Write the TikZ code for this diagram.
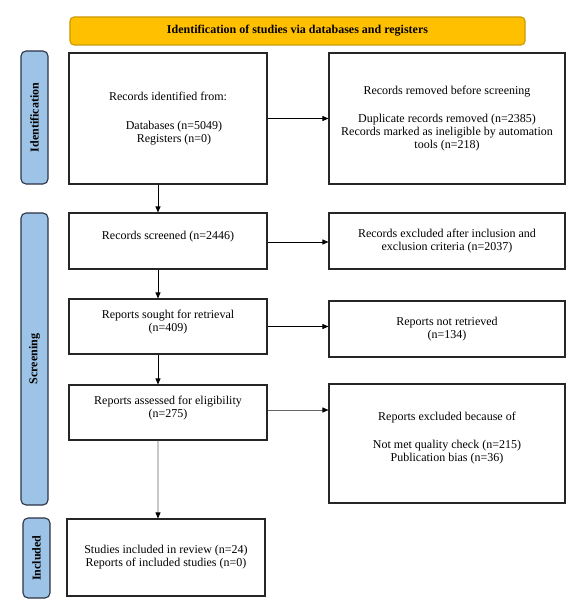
\documentclass[tikz,border=0pt]{standalone}
\usepackage{fontspec}
\setmainfont{Liberation Serif}
\usetikzlibrary{arrows.meta,positioning}
\definecolor{bannerfill}{HTML}{FFC000}
\definecolor{bannerdraw}{HTML}{C99A06}
\definecolor{sidefill}{HTML}{9DC3E6}
\definecolor{sidedraw}{HTML}{2B3445}
\tikzset{
  box/.style={draw=black!85, line width=1.1bp, fill=white, inner sep=0pt, align=center,
    font=\fontsize{12bp}{13bp}\selectfont},
  side/.style={draw=sidedraw, line width=1.1bp, fill=sidefill, rounded corners=5bp, inner sep=0pt},
  sidelabel/.style={rotate=90, font=\fontsize{12bp}{13bp}\selectfont\bfseries},
  conn/.style={line width=0.8bp, draw=black, -{Triangle[length=6bp,width=5bp,color=black]}},
  gconn/.style={conn, draw=black!60}
}
\begin{document}
\begin{tikzpicture}[x=1bp,y=-1bp]
\useasboundingbox (0,0) rectangle (586,613);
% banner
\node[draw=bannerdraw, line width=1.1bp, fill=bannerfill, rounded corners=4bp,
  minimum width=455bp, minimum height=28bp, inner sep=0pt,
  font=\fontsize{12bp}{13bp}\selectfont\bfseries] (banner) at (297.5,31) {Identification of studies via databases and registers};
% side bars
\node[side, minimum width=27bp, minimum height=133bp] (sid) at (34.5,117.5) {};
\node[sidelabel] at (sid.center) {Identification};
\node[side, minimum width=27bp, minimum height=292bp] (sscr) at (34.5,359) {};
\node[sidelabel] at (sscr.center) {Screening};
\node[side, minimum width=27bp, minimum height=80bp] (sinc) at (36.5,558) {};
\node[sidelabel] at (sinc.center) {Included};
% left boxes
\node[box, minimum width=198bp, minimum height=131bp] (b1) at (168,118.5)
  {Records identified from:\\[16bp]\hphantom{xx}Databases (n=5049)\\\hphantom{xx}Registers (n=0)};
\node[box, minimum width=198bp, minimum height=56bp] (b2) at (168,241)
  {Records screened (n=2446)\\[-1bp]\vphantom{X}};
\node[box, minimum width=198bp, minimum height=55bp] (b3) at (168,326.5)
  {Reports sought for retrieval\\(n=409)\\[-1bp]\vphantom{X}};
\node[box, minimum width=198bp, minimum height=55bp] (b4) at (168,412.5)
  {Reports assessed for eligibility\\(n=275)\\[-1bp]\vphantom{X}};
\node[box, minimum width=198bp, minimum height=77bp] (b5) at (166,557.5)
  {Studies included in review (n=24)\\Reports of included studies (n=0)};
% right boxes
\node[box, minimum width=236bp, minimum height=131bp] (r1) at (447,118.5)
  {Records removed before screening\\[15bp]Duplicate records removed (n=2385)\\Records marked as ineligible by automation\\tools (n=218)};
\node[box, minimum width=236bp, minimum height=56bp] (r2) at (447,241)
  {Records excluded after inclusion and\\exclusion criteria (n=2037)};
\node[box, minimum width=236bp, minimum height=56bp] (r3) at (447,329)
  {Reports not retrieved\\(n=134)};
\node[box, minimum width=236bp, minimum height=119bp] (r4) at (447,443.5)
  {Reports excluded because of\\[15bp]Not met quality check (n=215)\\Publication bias (n=36)\\[0bp]\vphantom{X}};
% connectors
\draw[conn] (b1.east) -- (b1.east -| r1.west);
\draw[conn] ([yshift=-1bp]b2.east) -- ([yshift=-1bp]b2.east -| r2.west);
\draw[conn] (b3.east) -- (b3.east -| r3.west);
\draw[gconn] ([yshift=2.5bp]b4.east) -- ([yshift=2.5bp]b4.east -| r4.west);
\draw[conn] ([xshift=-10bp]b1.south) -- ([xshift=-10bp]b2.north);
\draw[conn] ([xshift=-10bp]b2.south) -- ([xshift=-10bp]b3.north);
\draw[conn] ([xshift=-10bp]b3.south) -- ([xshift=-10bp]b4.north);
\draw[gconn] ([xshift=-10bp]b4.south) -- ([xshift=-8bp]b5.north);
\end{tikzpicture}
\end{document}
